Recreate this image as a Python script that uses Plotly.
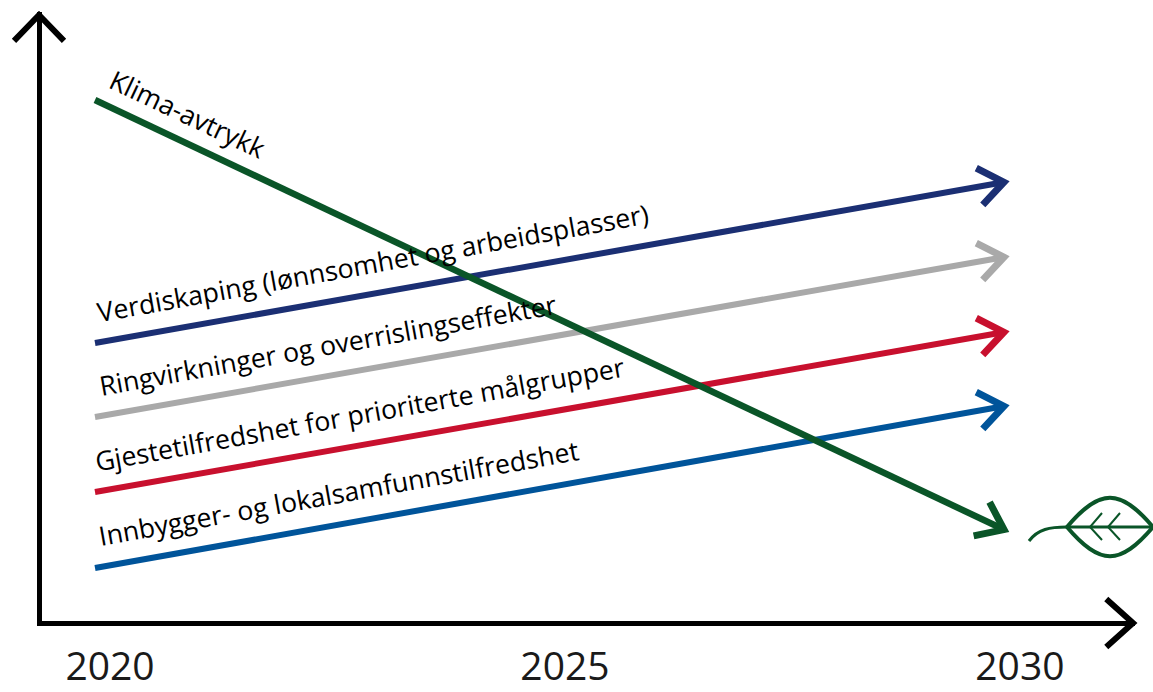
import math
import plotly.graph_objects as go

W, H = 1153, 692

# verdier lest av bildet (y er en vilkaarlig indeks uten enhet)
years = [2020, 2030]
klima = [522, 92]
verdiskaping = [279, 440]
ringvirkninger = [205, 365]
gjestetilfredshet = [130, 290]
innbygger = [54, 216]

tick_years = [2020, 2025, 2030]
tick_labels = ['2020', '2025', '2030']

series_names = ['Innbygger- og lokalsamfunnstilfredshet', 'Gjestetilfredshet for prioriterte målgrupper',
                'Ringvirkninger og overrislingseffekter', 'Verdiskaping (lønnsomhet og arbeidsplasser)', 'Klima-avtrykk']
series_values = [innbygger, gjestetilfredshet, ringvirkninger, verdiskaping, klima]
series_colors = ['#00549a', '#c8102e', '#a9a9a9', '#1b2f73', '#0a5528']

# label position: x in years, y in index units, angle in degrees
label_x = [2022.68, 2022.91, 2022.56, 2023.05, 2021.02]
label_y = [130, 209, 278, 360, 509]
label_angle = [-10.2, -10.2, -10.2, -10.2, 25.3]

x_range = [2019.412, 2031.43]
y_range = [1.5, 610]
px_per_year = 91

fig = go.Figure()


def chevron(x, y, direction, arm, half, color, width, back=0, ref='data'):
    # open arrow head drawn in pixels round an anchor. direction in degrees, 0 = right, 90 = up
    d = math.radians(direction)
    tip = (-back * math.cos(d), -back * math.sin(d))
    points = []
    for side in (-half, half):
        a = math.radians(direction + 180 + side)
        points.append((tip[0] + arm * math.cos(a), tip[1] + arm * math.sin(a)))
    path = (f'M{points[0][0]:.2f},{points[0][1]:.2f} L{tip[0]:.2f},{tip[1]:.2f} '
            f'L{points[1][0]:.2f},{points[1][1]:.2f}')
    fig.add_shape(type='path', path=path, xref='x' if ref == 'data' else 'paper', yref='y' if ref == 'data' else 'paper',
                  xsizemode='pixel', ysizemode='pixel',
                  xanchor=x, yanchor=y, line=dict(color=color, width=width), layer='above')


for name, values, color in zip(series_names, series_values, series_colors):
    fig.add_trace(go.Scatter(x=years, y=values, mode='lines', name=name,
                             line=dict(color=color, width=6.5 if name == 'Klima-avtrykk' else 6),
                             cliponaxis=False))
    slope = math.degrees(math.atan2(values[1] - values[0], (years[1] - years[0]) * px_per_year))
    chevron(years[1], values[1], slope, 31, 37, color, 7, back=1)

# axis arrow heads, anchored on the page because shapes on the axes get clipped
chevron(1133 / W, 1 - 623 / H, 0, 36, 42, 'black', 6, ref='paper')
chevron(39 / W, 1 - 15 / H, 90, 36, 44, 'black', 6, ref='paper')

for name, x, y, angle in zip(series_names, label_x, label_y, label_angle):
    fig.add_annotation(x=x, y=y, text=name, textangle=angle, showarrow=False,
                       font=dict(family='Open Sans', size=26.7, color='black'))


def px(x, y):
    return f'{x / W:.5f},{1 - y / H:.5f}'


# leaf icon
leaf_paths = [
    f'M{px(1067, 527)} C{px(1100, 488)} {px(1120, 488)} {px(1153, 527)} C{px(1120, 566)} {px(1100, 566)} {px(1067, 527)} Z',
    f'M{px(1029, 541)} C{px(1038, 529)} {px(1050, 527)} {px(1067, 527)} L{px(1153, 527)}',
    f'M{px(1102, 513)} L{px(1090, 527)} L{px(1102, 540)}',
    f'M{px(1120, 513)} L{px(1108, 527)} L{px(1120, 540)}',
]
for i, path in enumerate(leaf_paths):
    fig.add_shape(type='path', path=path, xref='paper', yref='paper',
                  line=dict(color=series_colors[4], width=4 if i == 0 else 3 if i == 1 else 2))

fig.update_layout(
    width=W,
    height=H,
    margin=dict(l=0, r=0, t=0, b=0, autoexpand=False),
    showlegend=False,
    plot_bgcolor='white',
    paper_bgcolor='white',
    xaxis=dict(
        domain=[41.5 / W, 1135 / W],
        range=x_range,
        automargin=False,
        showgrid=False,
        zeroline=False,
        showline=True,
        linecolor='black',
        linewidth=5,
        ticks='',
        tickvals=tick_years,
        ticktext=tick_labels,
        ticklabelshift=15,
        ticklabelstandoff=8,
        tickfont=dict(family='Open Sans', size=39, color='#1a1a1a'),
    ),
    yaxis=dict(
        domain=[1 - 620.5 / H, 1 - 12 / H],
        range=y_range,
        showgrid=False,
        zeroline=False,
        showline=True,
        linecolor='black',
        linewidth=5,
        showticklabels=False,
        ticks='',
    ),
)

fig.write_html("out.html", config=dict(displayModeBar=False),
               post_script="document.body.style.margin='0';document.body.style.overflow='hidden';")
